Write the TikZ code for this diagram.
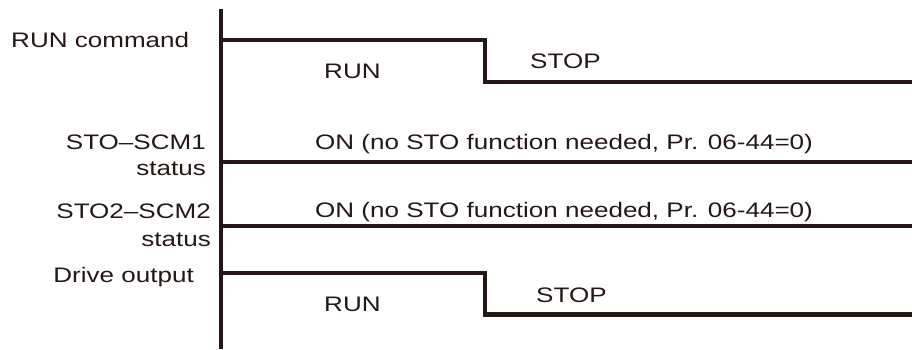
\documentclass[tikz,border=0pt]{standalone}
\usepackage{fontspec}
\setmainfont[FakeStretch=1.24]{Liberation Sans}
\definecolor{ink}{RGB}{35,24,21}
\begin{document}
\begin{tikzpicture}[x=1pt,y=-1pt,
  wave/.style={draw=ink,line width=4.2pt,line join=miter},
  lbl/.style={inner sep=0pt,text=ink,font=\fontsize{21}{24}\selectfont}]
\useasboundingbox (0,0) rectangle (912,349);
% axis
\coordinate (axT) at (221,9);
\coordinate (axB) at (221,349);
\draw[wave] (axT) -- (axB);
% RUN command waveform
\coordinate (r0) at (221,40);
\coordinate (r1) at (485,40);
\coordinate (r2) at (485,82);
\coordinate (r3) at (912,82);
\draw[wave] (r0) -- (r1) -- (r2) -- (r3);
% STO-SCM1
\coordinate (s0) at (221,162);
\coordinate (s1) at (912,162);
\draw[wave] (s0) -- (s1);
% STO2-SCM2
\coordinate (t0) at (221,226);
\coordinate (t1) at (912,226);
\draw[wave] (t0) -- (t1);
% Drive output
\coordinate (d0) at (221,273);
\coordinate (d1) at (484.7,273);
\coordinate (d2) at (484.7,314.5);
\coordinate (d3) at (912,314.5);
\draw[wave] (d0) -- (d1) -- (d2) -- (d3);
% labels
\node[lbl,anchor=base west] (lrc) at (11,47) {RUN command};
\node[lbl,anchor=base west] (run1) at (324,78) {RUN};
\node[lbl,anchor=base west] (stop1) at (530,68) {STOP};
\node[lbl,anchor=base east] (ls1) at (206,149) {STO–SCM1};
\node[lbl,anchor=base east] (ls1b) at (206,175) {status};
\node[lbl,anchor=base west] (on1) at (315,149) {ON (no STO function needed, Pr. 06-44=0)};
\node[lbl,anchor=base east] (ls2) at (211,218) {STO2–SCM2};
\node[lbl,anchor=base east] (ls2b) at (211,246) {status};
\node[lbl,anchor=base west] (on2) at (315,217) {ON (no STO function needed, Pr. 06-44=0)};
\node[lbl,anchor=base east] (ldo) at (194,282) {Drive output};
\node[lbl,anchor=base west] (run2) at (324,311) {RUN};
\node[lbl,anchor=base west] (stop2) at (536,302) {STOP};
\end{tikzpicture}
\end{document}
